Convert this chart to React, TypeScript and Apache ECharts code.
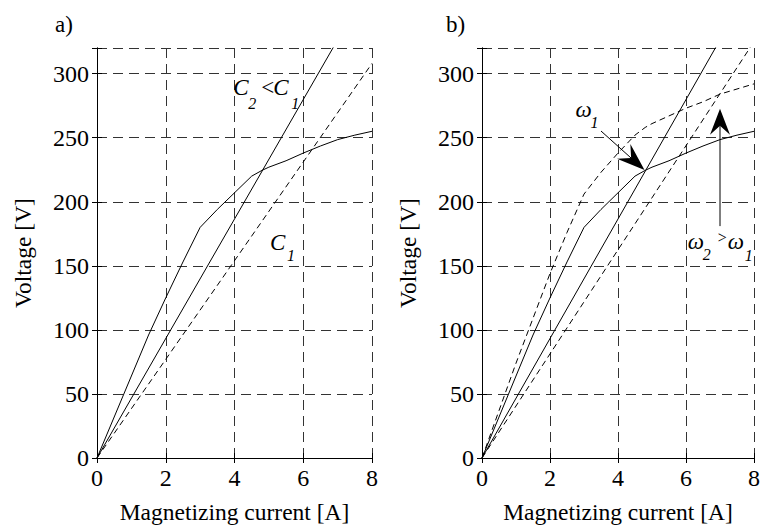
import { useEffect, useRef } from "react";
import * as echarts from "echarts";

// Magnetizing current samples [A]
const currentA = [0, 0.5, 1, 1.5, 2, 2.5, 3, 3.5, 4, 4.5, 4.8, 5, 5.5, 6, 6.5, 7, 7.5, 8];
// Magnetization curve at omega1 [V]
const magVoltageW1 = [0, 32, 64, 96, 125, 153, 180, 194, 207, 220, 224.5, 227, 232, 238, 243.5, 248.5, 252, 255];
// Magnetization curve at omega2 > omega1 [V]
const magVoltageW2 = [0, 37, 74, 109, 144, 176, 206, 223, 238, 252, 258, 261, 267, 273, 278, 284, 288, 292];
// Capacitor characteristic lines (end points)
const capLineCurrent = [0, 8];
const capLineC2 = [0, 373];
const capLineC1 = [0, 308];
const capLineW2 = [0, 325];
// Axis ticks
const xTickValues = [0, 2, 4, 6, 8];
const yTickValues = [0, 50, 100, 150, 200, 250, 300];
const xMax = 8;
const yMax = 320;

const FONT = "Liberation Serif";

const pairs = (xs: number[], ys: number[]) => xs.map((x, i) => [x, ys[i]]);

export default function App() {
  const ref = useRef<HTMLDivElement>(null);

  useEffect(() => {
    const el = ref.current;
    if (!el) return;
    const chart = echarts.init(el, null, { renderer: "svg" });

    const grids = [
      { left: 97, right: 391, top: 48, bottom: 67 },
      { left: 482, right: 5, top: 48, bottom: 67 },
    ];

    const xAxes: any[] = [];
    const yAxes: any[] = [];
    [0, 1].forEach((g) => {
      xAxes.push({
        type: "value",
        gridIndex: g,
        min: 0,
        max: xMax,
        interval: xTickValues[1] - xTickValues[0],
        name: "Magnetizing current [A]",
        nameLocation: "middle",
        nameGap: 42,
        nameTextStyle: { fontFamily: FONT, fontSize: 23.5, color: "#000" },
        axisLine: { show: true, lineStyle: { color: "#000", width: 1 } },
        axisTick: { show: true, inside: true, length: 5, lineStyle: { color: "#000" } },
        axisLabel: { margin: 8, fontFamily: FONT, fontSize: 24, color: "#000" },
        splitLine: { show: true, lineStyle: { color: "#333", type: [10, 6], width: 1 } },
      });
      yAxes.push({
        type: "value",
        gridIndex: g,
        min: 0,
        max: yMax,
        interval: yTickValues[1] - yTickValues[0],
        name: "Voltage [V]",
        nameLocation: "middle",
        nameGap: 62,
        nameTextStyle: { fontFamily: FONT, fontSize: 23.5, color: "#000" },
        axisLine: { show: true, lineStyle: { color: "#000", width: 1 } },
        axisTick: { show: true, inside: true, length: 5, lineStyle: { color: "#000" } },
        axisLabel: {
          margin: 8,
          fontFamily: FONT,
          fontSize: 24,
          color: "#000",
          formatter: (v: number) => (yTickValues.includes(v) ? String(v) : ""),
        },
        splitLine: { show: true, lineStyle: { color: "#333", type: [10, 6], width: 1 } },
      });
    });
    // mirrored axes (top / right) for the box ticks
    [0, 1].forEach((g) => {
      xAxes.push({
        type: "value",
        gridIndex: g,
        position: "top",
        min: 0,
        max: xMax,
        interval: 2,
        axisLine: { show: true, lineStyle: { color: "#000" } },
        axisTick: { show: true, inside: true, length: 5, lineStyle: { color: "#000" } },
        axisLabel: { show: false },
        splitLine: { show: false },
      });
      yAxes.push({
        type: "value",
        gridIndex: g,
        position: "right",
        min: 0,
        max: yMax,
        interval: 50,
        axisLine: { show: true, lineStyle: { color: "#000" } },
        axisTick: { show: true, inside: true, length: 5, lineStyle: { color: "#000" } },
        axisLabel: { show: false },
        splitLine: { show: false },
      });
    });

    const solid = { color: "#000", width: 1, type: "solid" };
    const dashed = { color: "#000", width: 1, type: [6, 4] };
    const mk = (g: number, data: number[][], ls: any) => ({
      type: "line",
      xAxisIndex: g,
      yAxisIndex: g,
      data,
      showSymbol: false,
      symbol: "none",
      clip: true,
      silent: true,
      lineStyle: ls,
      itemStyle: { color: "#000" },
    });

    const option: any = {
      animation: false,
      backgroundColor: "#fff",
      textStyle: { fontFamily: FONT },
      title: [
        { text: "a)", left: 55, top: 13, padding: 0, textStyle: { fontFamily: FONT, fontSize: 23, fontWeight: "normal", color: "#000" } },
        { text: "b)", left: 446, top: 13, padding: 0, textStyle: { fontFamily: FONT, fontSize: 23, fontWeight: "normal", color: "#000" } },
      ],
      grid: grids,
      xAxis: xAxes,
      yAxis: yAxes,
      series: [
        mk(0, pairs(currentA, magVoltageW1), solid),
        mk(0, pairs(capLineCurrent, capLineC2), solid),
        mk(0, pairs(capLineCurrent, capLineC1), dashed),
        mk(1, pairs(currentA, magVoltageW1), solid),
        mk(1, pairs(currentA, magVoltageW2), dashed),
        mk(1, pairs(capLineCurrent, capLineC2), solid),
        mk(1, pairs(capLineCurrent, capLineW2), dashed),
      ],
    };
    chart.setOption(option);

    const px = (g: number, x: number, y: number) =>
      chart.convertToPixel({ gridIndex: g } as any, [x, y]) as number[];

    const graphic: any[] = [];
    const txt = (g: number, ax: number, ay: number, dx: number, dy: number, text: string, size: number, italic = true) => {
      const p = px(g, ax, ay);
      graphic.push({
        type: "text",
        x: p[0] + dx,
        y: p[1] + dy,
        silent: true,
        z: 100,
        style: {
          text,
          fontFamily: FONT,
          fontSize: size,
          fontStyle: italic ? "italic" : "normal",
          fill: "#000",
          align: "left",
          verticalAlign: "middle",
        },
      });
    };
    const arrow = (g: number, from: number[], to: number[], len: number, halfW: number, notch: number) => {
      const a = px(g, from[0], from[1]);
      const b = px(g, to[0], to[1]);
      const vx = b[0] - a[0];
      const vy = b[1] - a[1];
      const L = Math.hypot(vx, vy);
      const ux = vx / L;
      const uy = vy / L;
      const nx = -uy;
      const ny = ux;
      const baseX = b[0] - ux * len;
      const baseY = b[1] - uy * len;
      const notchX = b[0] - ux * (len - notch);
      const notchY = b[1] - uy * (len - notch);
      graphic.push({
        type: "line",
        silent: true,
        z: 100,
        shape: { x1: a[0], y1: a[1], x2: notchX, y2: notchY },
        style: { stroke: "#000", lineWidth: 1 },
      });
      graphic.push({
        type: "polygon",
        silent: true,
        z: 101,
        shape: {
          points: [
            [b[0], b[1]],
            [baseX + nx * halfW, baseY + ny * halfW],
            [notchX, notchY],
            [baseX - nx * halfW, baseY - ny * halfW],
          ],
        },
        style: { fill: "#000" },
      });
    };

    // Panel a) labels
    txt(0, 3.96, 288.8, 0, 0, "C", 23);
    txt(0, 3.96, 288.8, 15, 16, "2", 16);
    txt(0, 3.96, 288.8, 28, 0, "<", 23, false);
    txt(0, 3.96, 288.8, 40, 0, "C", 23);
    txt(0, 3.96, 288.8, 58, 16, "1", 16);

    txt(0, 5.03, 168, 0, 0, "C", 23);
    txt(0, 5.03, 168, 17, 13, "1", 16);

    // Panel b) labels
    txt(1, 2.75, 271.7, 0, 0, "ω", 23);
    txt(1, 2.75, 271.7, 15, 13, "1", 16);

    txt(1, 6.05, 168.8, 0, 0, "ω", 23);
    txt(1, 6.05, 168.8, 15, 12.5, "2", 16);
    txt(1, 6.05, 168.8, 30, -4, ">", 16, false);
    txt(1, 6.05, 168.8, 40, 0, "ω", 23);
    txt(1, 6.05, 168.8, 57, 13.5, "1", 16);

    // Arrows
    arrow(1, [3.5, 255.2], [4.78, 224.7], 28, 10, 10);
    arrow(1, [7.0, 181], [7.0, 272.5], 26, 10, 9);

    chart.setOption({ graphic });

    return () => {
      chart.dispose();
    };
  }, []);

  return (
    <div
      ref={ref}
      style={{ position: "fixed", left: 0, top: 0, width: 763, height: 529, background: "#fff" }}
    />
  );
}
